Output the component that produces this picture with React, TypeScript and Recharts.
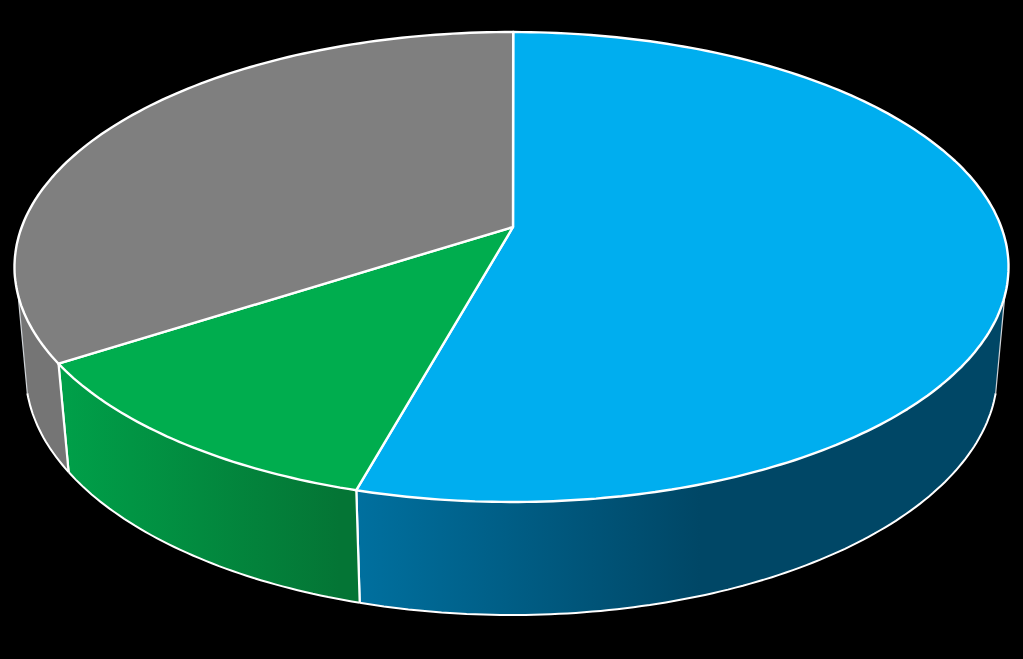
import { PieChart, Pie } from "recharts";

const categories = ["Blue", "Green", "Gray"];
const shares = [54.22, 11.58, 34.2];

const topColors = ["#00aeef", "#00ad4e", "#7f7f7f"];
const wallFrom = ["#00709f", "#00a049", "#757575"];
const wallTo = ["#004766", "#047535", "#757575"];
const wallRange = [[356, 700], [60, 340], [20, 70]];

const tableData = categories.map((name, i) => ({
  name,
  value: shares[i],
  top: topColors[i],
  from: wallFrom[i],
  to: wallTo[i],
  range: wallRange[i],
}));

// the slices are tilted: top face and bottom edge are two ellipses
const TOP = { cx: 511.5, cy: 267, rx: 497, ry: 235 };
const BOTTOM = { cx: 511.5, cy: 372, rx: 486, ry: 243 };
const APEX = { x: 513, y: 227 };
const TILT = (TOP.cy - APEX.y) / TOP.ry;
const RAD = Math.PI / 180;

// recharts angle -> angle on the ellipse, with the pie centre moved to the apex
const toEllipse = (angle: number) => {
  const c = (90 - angle) * RAD;
  const u = Math.sin(c);
  const v = Math.cos(c);
  const d = 1 + TILT * v;
  const phi = Math.atan2((u * Math.sqrt(1 - TILT * TILT)) / d, (v + TILT) / d) / RAD;
  let out = phi < -0.01 ? phi + 360 : phi;
  if (c > 1.9 * Math.PI && out < 1) out = 360;
  return out + 0.2;
};

const onEllipse = (e: typeof TOP, phi: number) =>
  [e.cx + e.rx * Math.sin(phi * RAD), e.cy - e.ry * Math.cos(phi * RAD)].map((n) => n.toFixed(1)).join(" ");

const arc = (e: typeof TOP, from: number, to: number) => {
  const n = Math.max(2, Math.ceil(Math.abs(to - from)));
  const pts: string[] = [];
  for (let i = 0; i <= n; i++) pts.push(onEllipse(e, from + ((to - from) * i) / n));
  return pts;
};

const TopFace = (props: any) => {
  const a = toEllipse(props.startAngle);
  const b = toEllipse(props.endAngle);
  const d = `M${APEX.x} ${APEX.y}L${arc(TOP, a, b).join("L")}Z`;
  return <path d={d} fill={props.top} stroke="#fff" strokeWidth={2.4} strokeLinejoin="round" />;
};

const Wall = (props: any) => {
  const a = toEllipse(props.startAngle);
  const b = toEllipse(props.endAngle);
  const topFrom = Math.max(a, 97);
  const topTo = Math.min(b, 263);
  const lowFrom = Math.max(a, 95);
  const lowTo = Math.min(b, 265);
  if (topTo <= topFrom) return <g />;
  const upper = arc(TOP, topFrom, topTo);
  const lower = arc(BOTTOM, lowTo, lowFrom);
  const id = `wall-${props.name}`;
  const ends: string[] = [];
  if (a > 97) ends.push(`M${upper[0]}L${lower[lower.length - 1]}`);
  if (b < 263) ends.push(`M${upper[upper.length - 1]}L${lower[0]}`);
  const sides: string[] = [];
  if (a <= 97) sides.push(`M${upper[0]}L${lower[lower.length - 1]}`);
  if (b >= 263) sides.push(`M${upper[upper.length - 1]}L${lower[0]}`);
  return (
    <g>
      <defs>
        <linearGradient id={id} gradientUnits="userSpaceOnUse" x1={props.range[0]} x2={props.range[1]} y1={0} y2={0}>
          <stop offset="0%" stopColor={props.from} />
          <stop offset="100%" stopColor={props.to} />
        </linearGradient>
      </defs>
      <path d={`M${upper.join("L")}L${lower.join("L")}Z`} fill={`url(#${id})`} stroke="none" />
      <path d={`M${lower.join("L")}`} fill="none" stroke="#fff" strokeWidth={2} />
      <path d={ends.join("")} fill="none" stroke="#fff" strokeWidth={2.2} />
      <path d={sides.join("")} fill="none" stroke="#d0d4d8" strokeWidth={1.2} />
    </g>
  );
};

export default function App() {
  return (
    <div style={{ position: "absolute", left: 0, top: 0, width: 1023, height: 659, background: "#000", overflow: "hidden" }}>
      <PieChart width={1023} height={659} margin={{ top: 0, right: 0, bottom: 0, left: 0 }}>
        <Pie
          data={tableData}
          dataKey="value"
          nameKey="name"
          cx={511}
          cy={267}
          outerRadius={235}
          startAngle={90}
          endAngle={-270}
          stroke="none"
          shape={Wall}
          isAnimationActive={false}
        />
        <Pie
          data={tableData}
          dataKey="value"
          nameKey="name"
          cx={511}
          cy={267}
          outerRadius={235}
          startAngle={90}
          endAngle={-270}
          stroke="none"
          shape={TopFace}
          isAnimationActive={false}
        />
      </PieChart>
    </div>
  );
}
